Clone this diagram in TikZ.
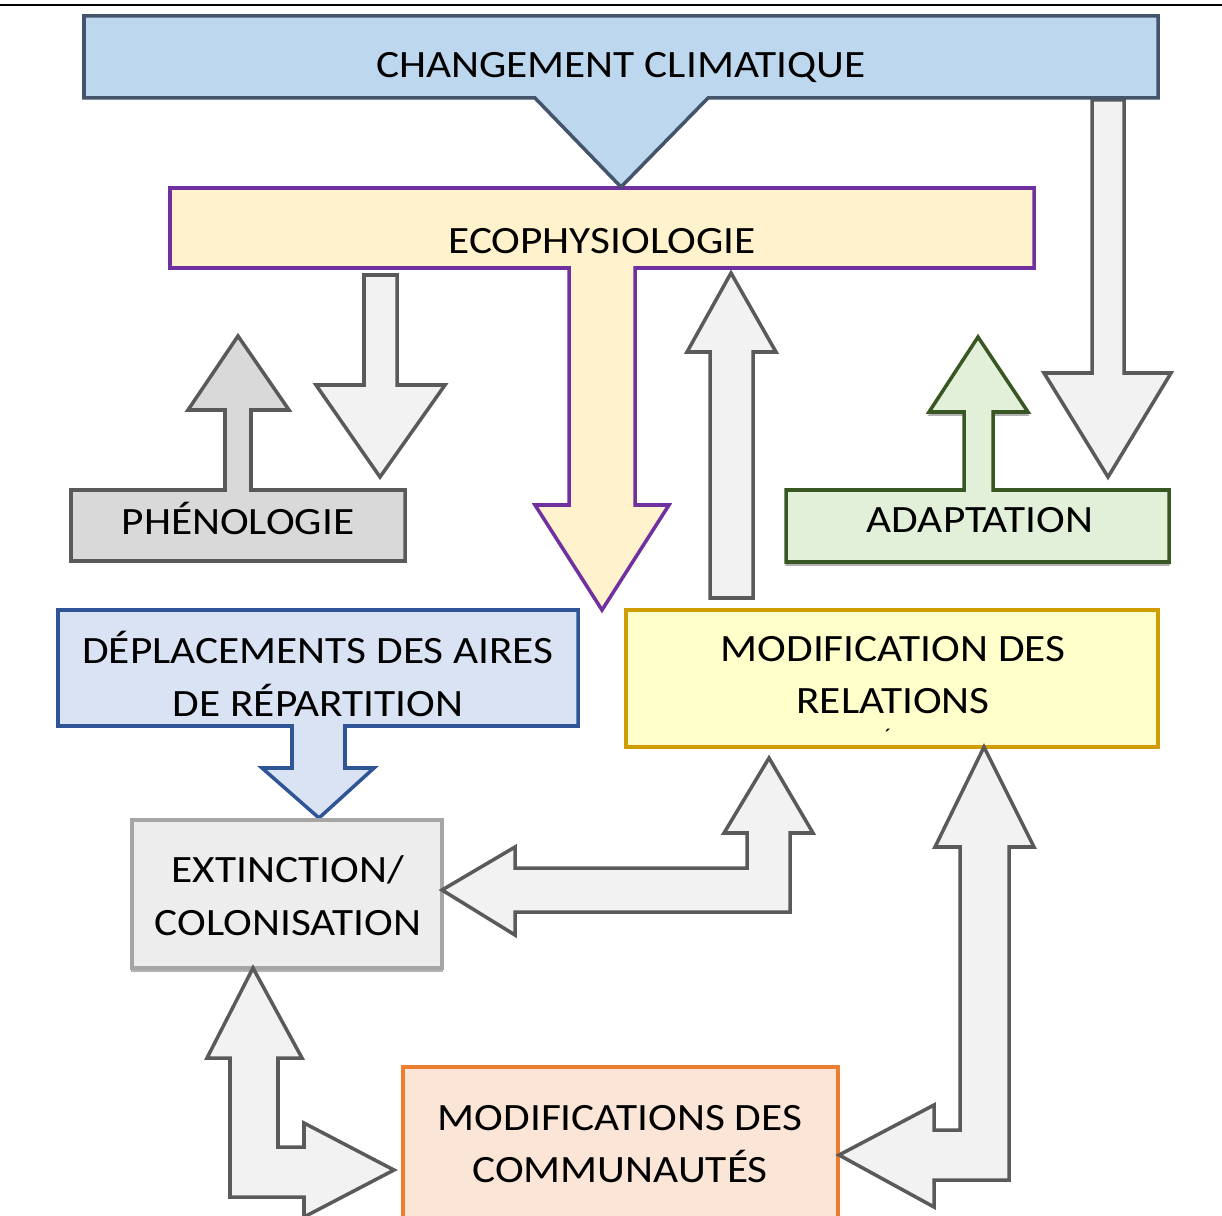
\documentclass[tikz,border=0pt]{standalone}
\usepackage{fontspec}
\setmainfont{Carlito}[FakeStretch=1.12]
\usepackage{tikz}
\definecolor{climfill}{HTML}{BDD7EE}
\definecolor{climline}{HTML}{44546A}
\definecolor{ecofill}{HTML}{FFF2CC}
\definecolor{ecoline}{HTML}{7030A0}
\definecolor{phenofill}{HTML}{D9D9D9}
\definecolor{phenoline}{HTML}{595959}
\definecolor{arrfill}{HTML}{F2F2F2}
\definecolor{arrline}{HTML}{5A5A5A}
\definecolor{adaptfill}{HTML}{E2F0D9}
\definecolor{adaptline}{HTML}{385723}
\definecolor{deplfill}{HTML}{DAE3F3}
\definecolor{deplline}{HTML}{2F5597}
\definecolor{relfill}{HTML}{FFFFCC}
\definecolor{relline}{HTML}{D09E00}
\definecolor{extfill}{HTML}{EDEDED}
\definecolor{extline}{HTML}{A5A5A5}
\definecolor{comfill}{HTML}{FBE5D6}
\definecolor{comline}{HTML}{ED7D31}

\begin{document}
\begin{tikzpicture}[x={(0.01cm,0)}, y={(0,-0.01cm)},
  blk/.style={line width=1pt},
  grey/.style={blk, draw=arrline, fill=arrfill},
  lbl/.style={align=center, inner sep=0pt, font=\fontsize{11}{15}\selectfont},
  shadowed/.style={preaction={fill=black!30, draw=black!30, transform canvas={yshift=-0.9pt}}}]

  \useasboundingbox (0,0) rectangle (1222,1216);
  \clip (0,0) rectangle (1222,1216);

  \draw[line width=0.8pt] (0,5) -- (1222,5);

  % climat -> adaptation
  \draw[grey] (1092,100) -- (1124,100) -- (1124,373) -- (1171,373) -- (1108,477) -- (1044,373) -- (1092,373) -- cycle;

  \draw[blk, draw=ecoline, fill=ecofill] (170,188) -- (1034,188) -- (1034,268) -- (635,268) -- (635,505) -- (669,505)
      -- (602,610) -- (535,505) -- (569,505) -- (569,268) -- (170,268) -- cycle;
  \node[lbl] (eco) at (602,241) {ECOPHYSIOLOGIE};

  \draw[blk, draw=climline, fill=climfill] (84,16) -- (1158,16) -- (1158,98) -- (708,98) -- (621,187) -- (535,98) -- (84,98) -- cycle;
  \node[lbl] (clim) at (621,68) {CHANGEMENT CLIMATIQUE};

  \draw[blk, draw=phenoline, fill=phenofill] (71,490) -- (225,490) -- (225,410) -- (188,410) -- (238,336) -- (289,410)
      -- (251,410) -- (251,490) -- (405,490) -- (405,561) -- (71,561) -- cycle;
  \node[lbl] (pheno) at (238,518) {PHÉNOLOGIE};

  % ecophysiologie -> phenologie
  \draw[grey] (364,275) -- (397,275) -- (397,385) -- (445,385) -- (380,477) -- (316,385) -- (364,385) -- cycle;

  \draw[blk, shadowed, draw=adaptline, fill=adaptfill] (786,490) -- (964,490) -- (964,412) -- (929,412) -- (978,337) -- (1028,412)
      -- (993,412) -- (993,490) -- (1169,490) -- (1169,562) -- (786,562) -- cycle;
  \node[lbl] (adapt) at (980,520) {ADAPTATION};

  % relations -> ecophysiologie
  \draw[grey] (710,598) -- (710,352) -- (687,352) -- (731,273) -- (776,352) -- (753,352) -- (753,598) -- cycle;

  \draw[blk, draw=deplline, fill=deplfill] (58,610) -- (578,610) -- (578,726) -- (345,726) -- (345,768) -- (374,768)
      -- (319,818) -- (262,768) -- (292,768) -- (292,726) -- (58,726) -- cycle;
  \node[lbl] (depl) at (318,674) {DÉPLACEMENTS DES AIRES\\DE RÉPARTITION};

  \draw[blk, draw=relline, fill=relfill] (626,610) rectangle (1158,747);
  \node[lbl] (relat) at (893,675) {MODIFICATION DES\\RELATIONS};
  \node[inner sep=0pt, font=\fontsize{6}{6}\selectfont] (relat_acc) at (888,736) {´};

  \draw[blk, shadowed, draw=extline, fill=extfill] (132,820) rectangle (442,968);
  \node[lbl] (extin) at (288,896) {EXTINCTION/\\COLONISATION};

  \draw[blk, draw=comline, fill=comfill] (403,1067) rectangle (838,1240);
  \node[lbl] (commu) at (620,1144) {MODIFICATIONS DES\\COMMUNAUTÉS};

  % double arrows
  \draw[grey] (442,890) -- (515,847) -- (515,868) -- (747,868) -- (747,833) -- (724,833) -- (769,758) -- (813,833)
      -- (790,833) -- (790,912) -- (515,912) -- (515,935) -- cycle;
  \draw[grey] (984,747) -- (1034,847) -- (1009,847) -- (1009,1180) -- (934,1180) -- (934,1207) -- (839,1155)
      -- (934,1105) -- (934,1130) -- (960,1130) -- (960,847) -- (935,847) -- cycle;
  \draw[grey] (253,968) -- (302,1058) -- (278,1058) -- (278,1147) -- (304,1147) -- (304,1123) -- (394,1170)
      -- (304,1217) -- (304,1197) -- (230,1197) -- (230,1058) -- (207,1058) -- cycle;

\end{tikzpicture}
\end{document}
